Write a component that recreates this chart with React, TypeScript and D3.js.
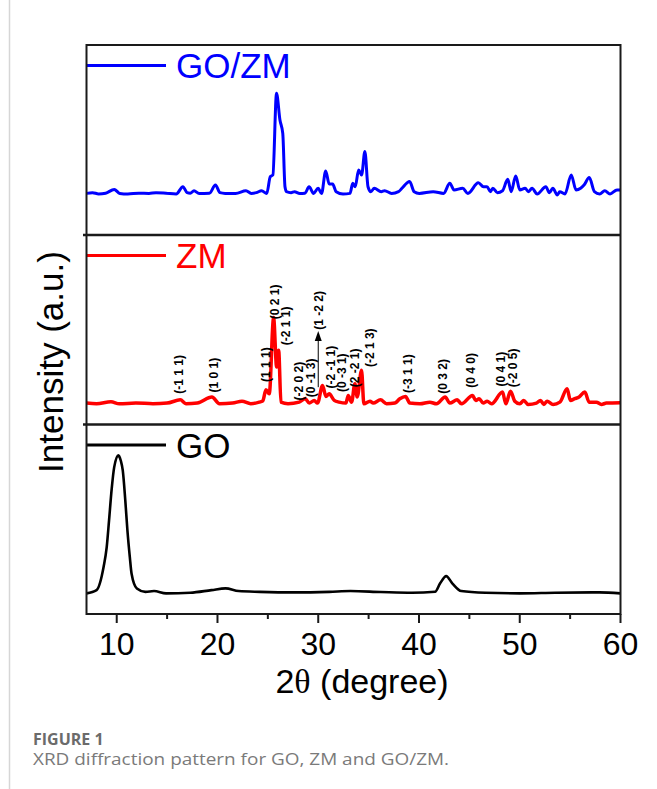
import React, { useRef, useEffect } from 'react';
import * as d3 from 'd3';

// 2θ (degree) vs intensity (a.u.)
const goZmPattern: [number, number][] = [
  [7.0, 21.9], [7.6, 22.3], [8.2, 21.6], [8.9, 22.0], [9.75, 24.0], [10.3, 21.9], [11.1, 21.6],
  [12.2, 22.0], [13.2, 21.9], [13.9, 22.3], [14.9, 22.0], [15.9, 21.6], [16.57, 25.4], [16.98, 22.3],
  [17.3, 22.0], [17.67, 23.3], [18.18, 21.9], [19.2, 22.0], [19.8, 26.3], [20.25, 22.3], [20.76, 21.9],
  [21.8, 21.9], [22.83, 23.3], [23.35, 21.9], [23.86, 22.3], [24.38, 23.3], [24.89, 21.9], [25.24, 30.7],
  [25.5, 31.6], [25.86, 74.6], [26.2, 60.5], [26.48, 53.5], [26.7, 25.4], [26.85, 22.8], [27.3, 22.3],
  [27.65, 22.8], [28.16, 21.9], [28.68, 22.0], [29.09, 25.4], [29.54, 21.9], [29.99, 24.6], [30.33, 21.9],
  [30.74, 33.7], [31.09, 26.8], [31.43, 26.8], [31.78, 22.8], [32.46, 21.6], [33.15, 21.9], [33.43, 27.2],
  [33.67, 25.4], [34.01, 34.2], [34.3, 31.6], [34.63, 43.9], [34.94, 25.4], [35.22, 22.8], [35.56, 24.6],
  [36.25, 22.8], [36.59, 23.3], [37.28, 21.9], [37.97, 22.8], [38.31, 24.6], [39.07, 28.1], [39.52, 22.8],
  [40.03, 21.9], [41.41, 22.8], [42.44, 21.9], [43.06, 27.2], [43.48, 23.7], [44.34, 24.6], [44.85, 21.9],
  [45.89, 27.5], [46.4, 25.4], [46.75, 25.4], [47.09, 22.8], [47.33, 24.6], [47.78, 22.3], [48.29, 23.3],
  [48.81, 29.3], [49.15, 22.8], [49.6, 31.1], [50.01, 23.7], [50.53, 24.6], [50.87, 22.8], [51.22, 24.6],
  [51.73, 21.6], [52.59, 25.4], [52.94, 22.3], [53.28, 24.6], [53.73, 21.1], [53.97, 22.8], [54.49, 21.6],
  [55.11, 31.6], [55.59, 23.7], [56.04, 24.6], [56.38, 26.3], [56.9, 30.2], [57.41, 22.8], [57.93, 21.6],
  [58.44, 23.3], [58.96, 21.6], [59.65, 23.7], [60.0, 23.7],
];

const zmPattern: [number, number][] = [
  [7.0, 11.3], [8.0, 11.0], [9.43, 12.0], [10.26, 10.9], [11.9, 11.3], [13.6, 11.0], [15.0, 11.3],
  [16.31, 13.0], [16.87, 11.0], [18.0, 11.3], [19.45, 14.5], [20.2, 11.0], [21.5, 11.3], [22.43, 12.3],
  [23.3, 11.0], [24.15, 11.8], [24.5, 12.5], [24.81, 18.3], [25.14, 16.2], [25.57, 56.4], [25.87, 30.4],
  [26.07, 39.2], [26.3, 11.8], [27.0, 11.0], [28.11, 11.8], [28.71, 13.6], [29.11, 11.3], [29.6, 12.7],
  [29.93, 11.3], [30.43, 20.6], [30.76, 14.8], [31.09, 16.2], [31.59, 12.7], [32.08, 11.8], [32.74, 11.3],
  [32.98, 15.3], [33.31, 11.8], [33.64, 21.5], [33.87, 14.5], [34.3, 28.6], [34.53, 10.9], [35.13, 12.3],
  [35.46, 11.3], [36.18, 13.0], [36.78, 10.9], [37.61, 11.3], [38.1, 13.6], [38.66, 14.8], [39.09, 11.3],
  [40.09, 10.9], [41.08, 11.8], [41.74, 10.9], [42.6, 14.5], [43.06, 11.3], [43.79, 13.0], [44.22, 10.9],
  [45.31, 15.3], [45.64, 12.7], [45.97, 13.6], [46.37, 11.3], [46.77, 12.3], [47.2, 10.9], [48.29, 17.1],
  [48.62, 10.9], [49.08, 17.6], [49.51, 12.3], [50.01, 10.9], [50.4, 12.7], [50.83, 10.6], [51.66, 11.3],
  [52.06, 12.7], [52.39, 10.6], [52.72, 12.3], [53.31, 10.6], [53.98, 11.8], [54.7, 18.9], [55.03, 12.7],
  [55.46, 13.6], [55.89, 14.5], [56.46, 17.1], [56.89, 11.8], [57.61, 11.8], [58.11, 10.6], [58.6, 11.3],
  [60.0, 11.5],
];

const goPattern: [number, number][] = [
  [7.0, 10.9], [8.0, 12.6], [8.7, 24.9], [9.0, 35], [9.24, 49.5], [9.5, 66], [9.75, 77.5], [10.17, 83.7],
  [10.4, 81], [10.6, 75.8], [10.85, 60], [11.06, 44.2], [11.3, 30], [11.47, 21.4], [12.0, 13.5],
  [12.85, 11.7], [13.7, 12.1], [14.9, 10.9], [17.3, 11.2], [19.4, 12.6], [20.8, 13.5], [22.1, 12.1],
  [24.2, 11.7], [27.6, 11.4], [31.1, 11.7], [33.2, 12.1], [36.2, 11.6], [39.3, 11.2], [41.6, 11.7],
  [42.1, 16.2], [42.7, 20.0], [43.3, 16.2], [44.2, 12.1], [46.6, 11.2], [50.0, 10.9], [53.5, 11.2],
  [57.9, 11.4], [60.0, 10.9],
];

// ZM reflections: label, 2θ, intensity level where the label starts
const zmPeakLabels = ['(-1 1 1)', '(1 0 1)', '(1 1 1)', '(0 2 1)', '(-2 1 1)', '(-2 0 2)', '(0 -1 3)',
  '(1 -2 2)', '(-2 -1 1)', '(0 -3 1)', '(2 -2 1)', '(-2 1 3)', '(-3 1 1)', '(0 3 2)', '(0 4 0)',
  '(0 4 1)', '(-2 0 5)'];
const zmPeakTheta = [16.2, 19.7, 24.8, 25.7, 26.8, 28.1, 29.3, 30.1, 31.3, 32.4, 33.6, 35.1, 38.9,
  42.4, 45.2, 48.1, 49.3];
const zmPeakLevel = [16.2, 16.9, 22.4, 55.6, 41.8, 12.7, 14.4, 50.0, 19.0, 17.1, 19.7, 30.3, 16.6,
  16.2, 19.4, 20.1, 19.7];
// arrow under (1 -2 2): 2θ, from level, to level
const zmArrow = [30.0, 19.7, 49.3];

const seriesNames = ['GO/ZM', 'ZM', 'GO'];
const seriesColors = ['#0000ff', '#ff0000', '#000000'];
const xTicks = [10, 20, 30, 40, 50, 60];
const xMinorTicks = [15, 25, 35, 45, 55];

const W = 657;
const H = 789;
const left = 86.5;
const right = 620.5;
const panelTops = [45, 235, 424.5];
const panelBottoms = [235, 424.5, 614];
const axisFont = '"Liberation Sans", Arial, sans-serif';

const App = () => {
  const svgRef = useRef<SVGSVGElement>(null);

  useEffect(() => {
    const svg = d3.select(svgRef.current);
    svg.selectAll('*').remove();

    const x = d3.scaleLinear().domain([7, 60]).range([left, right]);
    const series = [goZmPattern, zmPattern, goPattern];

    // page frame line
    svg.append('line')
      .attr('x1', 9.5).attr('x2', 9.5).attr('y1', 0).attr('y2', H)
      .attr('stroke', '#d6d6d6').attr('stroke-width', 1.5);

    series.forEach((data, i) => {
      const y = d3.scaleLinear().domain([0, 100]).range([panelBottoms[i], panelTops[i]]);
      const line = d3.line<[number, number]>()
        .x(d => x(d[0]))
        .y(d => y(d[1]))
        .curve(d3.curveMonotoneX);

      svg.append('path')
        .datum(data)
        .attr('d', line)
        .attr('fill', 'none')
        .attr('stroke', seriesColors[i])
        .attr('stroke-width', i === 2 ? 2.6 : i === 1 ? 3.5 : 3)
        .attr('stroke-linejoin', 'round');

      // legend
      const ly = panelTops[i] + 20.5;
      svg.append('line')
        .attr('x1', left).attr('x2', 166).attr('y1', ly).attr('y2', ly)
        .attr('stroke', seriesColors[i]).attr('stroke-width', 3);
      svg.append('text')
        .attr('x', 176).attr('y', ly + 12.5)
        .attr('font-family', axisFont)
        .attr('font-size', 35)
        .attr('fill', seriesColors[i])
        .text(seriesNames[i]);

      if (i === 1) {
        const g = svg.append('g');
        zmPeakLabels.forEach((lab, k) => {
          const px = x(zmPeakTheta[k]);
          const py = y(zmPeakLevel[k]);
          g.append('text')
            .attr('transform', `translate(${px},${py}) rotate(-90)`)
            .attr('dominant-baseline', 'central')
            .attr('font-family', axisFont)
            .attr('font-size', 12)
            .attr('font-weight', 'bold')
            .attr('fill', '#000')
            .text(lab);
        });
        const ax = x(zmArrow[0]);
        const ay1 = y(zmArrow[1]);
        const ay2 = y(zmArrow[2]);
        g.append('line')
          .attr('x1', ax).attr('x2', ax).attr('y1', ay1).attr('y2', ay2 + 8)
          .attr('stroke', '#000').attr('stroke-width', 1);
        g.append('path')
          .attr('d', `M${ax},${ay2} L${ax - 3.5},${ay2 + 10} L${ax + 3.5},${ay2 + 10} Z`)
          .attr('fill', '#000');
      }
    });

    // frames
    svg.append('rect')
      .attr('x', left).attr('y', panelTops[0])
      .attr('width', right - left).attr('height', panelBottoms[2] - panelTops[0])
      .attr('fill', 'none').attr('stroke', '#1a1a1a').attr('stroke-width', 2);
    [panelBottoms[0], panelBottoms[1]].forEach(yy => {
      svg.append('line')
        .attr('x1', left - 3.5).attr('x2', right).attr('y1', yy).attr('y2', yy)
        .attr('stroke', '#1a1a1a').attr('stroke-width', 2.4);
    });

    // x axis ticks
    const base = panelBottoms[2];
    xTicks.forEach(t => {
      svg.append('line')
        .attr('x1', x(t)).attr('x2', x(t)).attr('y1', base).attr('y2', base + 9)
        .attr('stroke', '#1a1a1a').attr('stroke-width', 2);
      svg.append('text')
        .attr('x', x(t)).attr('y', base + 41)
        .attr('text-anchor', 'middle')
        .attr('font-family', axisFont)
        .attr('font-size', 32)
        .attr('fill', '#000')
        .text(t);
    });
    xMinorTicks.forEach(t => {
      svg.append('line')
        .attr('x1', x(t)).attr('x2', x(t)).attr('y1', base).attr('y2', base + 5)
        .attr('stroke', '#1a1a1a').attr('stroke-width', 2);
    });

    // axis titles
    const xt = svg.append('text')
      .attr('x', 362).attr('y', 693)
      .attr('text-anchor', 'middle')
      .attr('font-family', axisFont)
      .attr('font-size', 34)
      .attr('fill', '#000');
    xt.append('tspan').text('2');
    xt.append('tspan').attr('font-family', '"Liberation Serif", "DejaVu Serif", serif').text('θ');
    xt.append('tspan').text(' (degree)');

    svg.append('text')
      .attr('transform', 'translate(63,362) rotate(-90)')
      .attr('text-anchor', 'middle')
      .attr('font-family', axisFont)
      .attr('font-size', 35)
      .attr('fill', '#000')
      .text('Intensity (a.u.)');

    // caption
    svg.append('text')
      .attr('x', 33).attr('y', 745)
      .attr('font-family', '"Open Sans", "Noto Sans", sans-serif')
      .attr('font-size', 16)
      .attr('font-weight', 'bold')
      .attr('fill', '#6b6b6b')
      .text('FIGURE 1');
    svg.append('text')
      .attr('x', 33).attr('y', 765)
      .attr('font-family', '"Open Sans", "Noto Sans", sans-serif')
      .attr('font-size', 16)
      .attr('textLength', 416)
      .attr('lengthAdjust', 'spacingAndGlyphs')
      .attr('fill', '#7a7a7a')
      .text('XRD diffraction pattern for GO, ZM and GO/ZM.');
  }, []);

  return (
    <svg
      ref={svgRef}
      width={W}
      height={H}
      viewBox={`0 0 ${W} ${H}`}
      style={{ position: 'absolute', left: 0, top: 0, background: '#fff' }}
    />
  );
};

export default App;
